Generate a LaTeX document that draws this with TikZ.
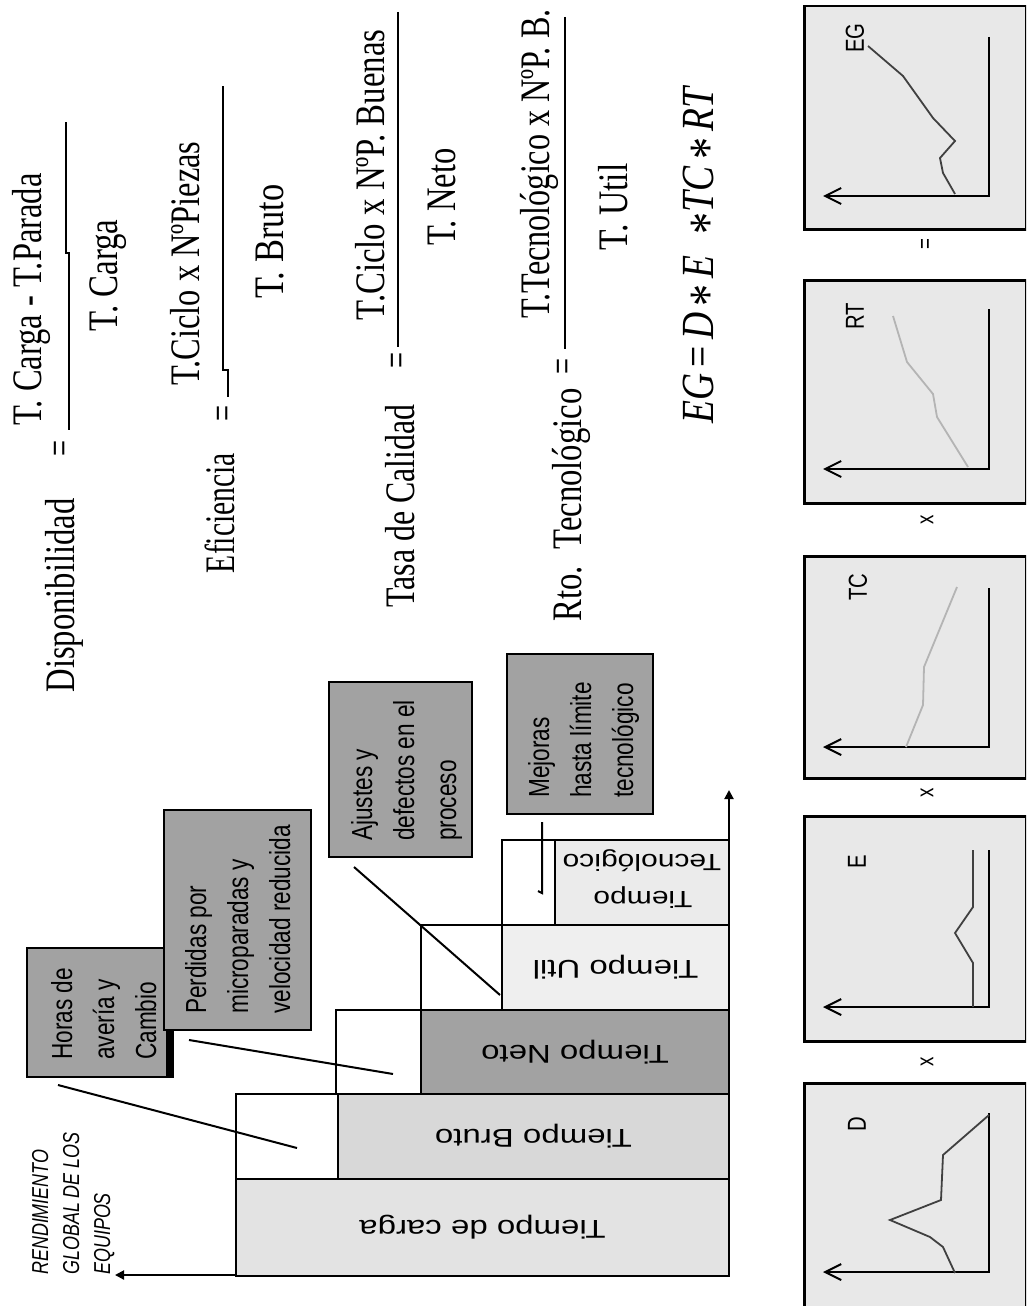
\documentclass[tikz,border=0pt]{standalone}
\usepackage{fontspec}
\setmainfont{Liberation Serif}
\setsansfont{Liberation Sans}
\usepackage{graphicx}
\usetikzlibrary{arrows.meta}
\newcommand{\fitw}[2]{\resizebox{#1}{\height}{#2}}
\newcommand{\sqz}[1]{\scalebox{0.78}[1]{#1}}
\newcommand{\sqy}[1]{\scalebox{1}[0.78]{#1}}
\newcommand{\mstar}{\raisebox{-0.28em}{\fontsize{54}{54}\selectfont *}}
\definecolor{boxgray}{HTML}{A2A2A2}
\definecolor{cargagray}{HTML}{E3E3E3}
\definecolor{brutogray}{HTML}{D8D8D8}
\definecolor{netogray}{HTML}{A2A2A2}
\definecolor{utilgray}{HTML}{EFEFEF}
\definecolor{tecgray}{HTML}{EBEBEB}
\definecolor{graphbg}{HTML}{E8E8E8}
\definecolor{darkcurve}{HTML}{404040}
\definecolor{lightcurve}{HTML}{B4B4B4}
\tikzset{
  stext/.style={rotate=90, inner sep=0pt, font=\fontsize{42}{48}\selectfont},
  fline/.style={line width=2pt},
  cbox/.style={draw=black, line width=2pt, fill=boxgray, inner sep=0pt, anchor=north west},
  ctext/.style={rotate=90, inner sep=0pt, anchor=base west, font=\sffamily\fontsize{29}{42}\selectfont},
  stair/.style={rotate=180, inner sep=0pt, font=\sffamily\fontsize{33}{38}\selectfont},
  stepedge/.style={draw=black, line width=2pt},
  leader/.style={line width=2pt},
  gbox/.style={draw=black, line width=2.5pt, fill=graphbg, inner sep=0pt, anchor=north west, minimum width=222pt},
  gaxis/.style={line width=2pt, -{Straight Barb[length=16pt,width=16pt,line width=2pt]}},
  dcurve/.style={draw=darkcurve, line width=1.8pt},
  lcurve/.style={draw=lightcurve, line width=1.8pt},
  glabel/.style={rotate=90, inner sep=0pt, font=\sffamily\fontsize{26}{30}\selectfont},
  gsym/.style={rotate=90, inner sep=0pt, font=\sffamily\fontsize{24}{28}\selectfont},
  mainaxis/.style={line width=2pt, -{Triangle[length=9pt,width=9pt]}}
}
\begin{document}
\begin{tikzpicture}[x=1pt,y=-1pt]
\useasboundingbox (0,0) rectangle (1026,1306);
\clip (0,0) rectangle (1026,1306);
\fill[white] (0,0) rectangle (1026,1306);

% ---------------- formulas ----------------
\node[stext] (num1) at (31.5,299.5) {\fitw{252pt}{T. Carga - T.Parada}};
\node[stext] (den1) at (108,275.5) {\fitw{112pt}{T. Carga}};
\node[stext] (disp) at (64.5,595.5) {\fitw{194pt}{Disponibilidad}};
\node[stext] (eq1) at (64,448) {\fitw{16pt}{=}};
\draw[fline] (66,122) -- (66,253) -- (69,253) -- (69,430);

\node[stext] (num2) at (185,263.5) {\fitw{244pt}{T.Ciclo x NºPiezas}};
\node[stext] (den2) at (270,241.5) {\fitw{114pt}{T. Bruto}};
\node[stext] (efic) at (219.5,513) {\fitw{120pt}{Eficiencia}};
\node[stext] (eq2) at (227,413) {\fitw{16pt}{=}};
\draw[fline] (223,86) -- (223,370) -- (228,370) -- (228,397);

\node[stext] (num3) at (370,175) {\fitw{291pt}{T.Ciclo x NºP. Buenas}};
\node[stext] (den3) at (442.5,197) {\fitw{97pt}{T. Neto}};
\node[stext] (tasa) at (400,506) {\fitw{203pt}{Tasa de Calidad}};
\node[stext] (eq3) at (401,360) {\fitw{16pt}{=}};
\draw[fline] (398,12) -- (398,347);

\node[stext] (num4) at (539,164) {\fitw{309pt}{T.Tecnológico x NºP. B.}};
\node[stext] (den4) at (613.5,207) {\fitw{87pt}{T. Util}};
\node[stext] (rto) at (571,505) {\fitw{233pt}{Rto.\ \ Tecnológico}};
\node[stext] (eq4) at (567,366) {\fitw{16pt}{=}};
\draw[fline] (565,17) -- (565,349);

\node[stext, font=\fontsize{46}{52}\selectfont] (egf) at (705,254.5)
  {\fitw{338pt}{\textit{EG}\,=\,\textit{D}\,\mstar\,\textit{E}\;\;\mstar\textit{TC}\,\mstar\,\textit{RT}}};

% ---------------- staircase ----------------
\filldraw[stepedge, fill=cargagray] (236,1179) rectangle (729,1276);
\filldraw[stepedge, fill=white] (236,1094) rectangle (338,1179);
\filldraw[stepedge, fill=brutogray] (338,1094) rectangle (729,1179);
\filldraw[stepedge, fill=white] (336,1010) rectangle (421,1094);
\filldraw[stepedge, fill=netogray] (421,1010) rectangle (729,1094);
\filldraw[stepedge, fill=white] (421,925) rectangle (502,1010);
\filldraw[stepedge, fill=utilgray] (502,925) rectangle (729,1010);
\filldraw[stepedge, fill=white] (502,840) rectangle (555,925);
\filldraw[stepedge, fill=tecgray] (555,840) rectangle (729,925);

\node[stair] (lcarga) at (482.5,1227.5) {\sqy{Tiempo de carga}};
\node[stair] (lbruto) at (533.5,1136.5) {\sqy{Tiempo Bruto}};
\node[stair] (lneto) at (575,1052) {\sqy{Tiempo Neto}};
\node[stair] (lutil) at (615.5,967.5) {\sqy{Tiempo Util}};
\node[stair, font=\sffamily\fontsize{30}{40}\selectfont] (ltec1) at (643,898) {\sqy{Tiempo}};
\node[stair, font=\sffamily\fontsize{30}{40}\selectfont] (ltec2) at (642,861) {\sqy{Tecnológico}};

\coordinate (axisorigin) at (729,1276);
\coordinate (axistop) at (729,790);
\draw[mainaxis] (axisorigin) -- (axistop);
\coordinate (rendstart) at (236,1275);
\coordinate (rendtip) at (115,1275);
\draw[mainaxis] (rendstart) -- (rendtip);

\node[ctext, font=\sffamily\itshape\fontsize{23}{31}\selectfont] (rend) at (48,1275)
  {\sqz{\begin{tabular}[t]{@{}l@{}}RENDIMIENTO\\GLOBAL DE LOS\\EQUIPOS\end{tabular}}};

% ---------------- callout boxes ----------------
\node[cbox, minimum width=146pt, minimum height=129pt] (horas) at (26,947) {};
\fill (166,1029) rectangle (173,1076);
\node[cbox, minimum width=147pt, minimum height=220pt] (perdidas) at (163,809) {};
\node[cbox, minimum width=143pt, minimum height=175pt] (ajustes) at (328,681) {};
\node[cbox, minimum width=146pt, minimum height=160pt] (mejoras) at (506,653) {};

\node[ctext] (thoras) at (72,1060)
  {\sqz{\begin{tabular}[t]{@{}l@{}}Horas de\\avería y\\Cambio\end{tabular}}};
\node[ctext] (tperdidas) at (206,1014)
  {\sqz{\begin{tabular}[t]{@{}l@{}}Perdidas por\\microparadas y\\velocidad reducida\end{tabular}}};
\node[ctext] (tajustes) at (372,841)
  {\sqz{\begin{tabular}[t]{@{}l@{}}Ajustes y\\defectos en el\\proceso\end{tabular}}};
\node[ctext] (tmejoras) at (549,798)
  {\sqz{\begin{tabular}[t]{@{}l@{}}Mejoras\\hasta límite\\tecnológico\end{tabular}}};

% leader lines
\coordinate (h1) at (58,1085);  \coordinate (h2) at (297,1148);
\coordinate (p1) at (189,1040); \coordinate (p2) at (393,1074);
\coordinate (a1) at (354,867);  \coordinate (a2) at (500,995);
\coordinate (m1) at (542,822);  \coordinate (m2) at (542,893);
\draw[leader] (h1) -- (h2);
\draw[leader] (p1) -- (p2);
\draw[leader] (a1) -- (a2);
\draw[leader] (m1) -- (m2) -- ++(-4,-2);

% ---------------- graph boxes ----------------
\node[gbox, minimum height=223pt] (geg) at (803,5) {};
\node[gbox, minimum height=223pt] (grt) at (803,279) {};
\node[gbox, minimum height=222pt] (gtc) at (803,555) {};
\node[gbox, minimum height=225pt] (ge) at (803,815) {};
\node[gbox, minimum height=240pt] (gd) at (803,1082) {};

\draw[gaxis] (989,37) -- (989,196) -- (823,196);
\draw[gaxis] (989,309) -- (989,469) -- (823,469);
\draw[gaxis] (989,588) -- (989,747) -- (823,747);
\draw[gaxis] (989,850) -- (989,1007) -- (823,1007);
\draw[gaxis] (989,1113) -- (989,1272) -- (823,1272);

\draw[dcurve] (868,46) -- (903,76) -- (933,118) -- (955,141) -- (940,158) -- (943,173) -- (955,194);
\draw[lcurve] (893,316) -- (907,362) -- (933,394) -- (937,417) -- (968,467);
\draw[lcurve] (906,747) -- (923,705) -- (924,667) -- (957,587);
\draw[dcurve] (973,850) -- (973,907) -- (955,933) -- (973,963) -- (973,1007);
\draw[dcurve] (989,1115) -- (943,1155) -- (941,1200) -- (890,1220) -- (930,1237) -- (943,1247) -- (955,1273);

\node[glabel] (leg) at (855,38) {\sqz{EG}};
\node[glabel] (lrt) at (855,316) {\sqz{RT}};
\node[glabel] (ltc) at (858,587) {\sqz{TC}};
\node[glabel] (le) at (857,862) {\sqz{E}};
\node[glabel] (ld) at (857,1124) {\sqz{D}};

\node[gsym] (s1) at (927,244) {\sqz{=}};
\node[gsym] (s2) at (927,520) {\sqz{x}};
\node[gsym] (s3) at (927,793) {\sqz{x}};
\node[gsym] (s4) at (927,1062) {\sqz{x}};
\end{tikzpicture}
\end{document}
